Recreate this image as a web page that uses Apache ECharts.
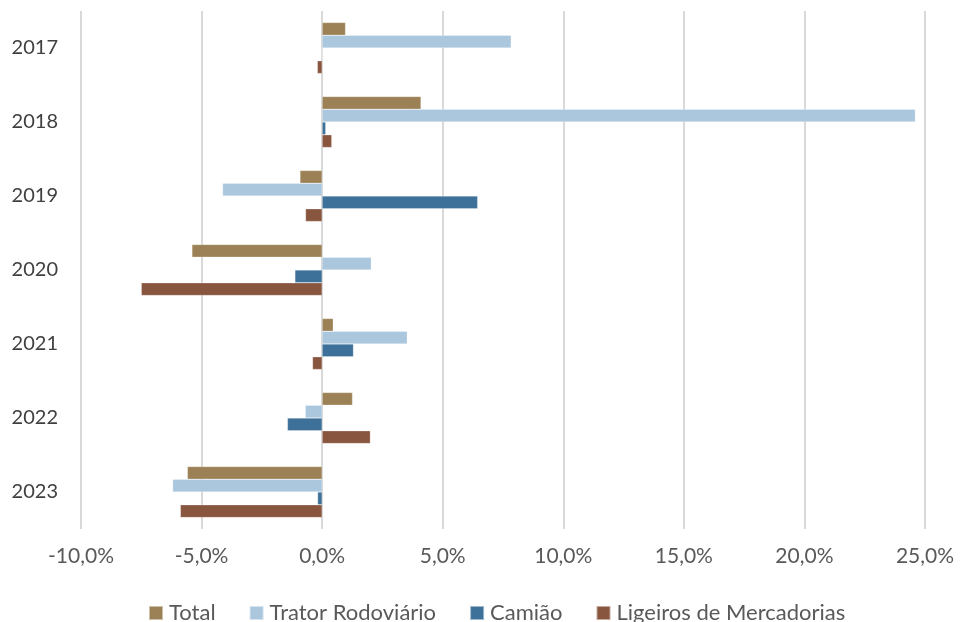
<!DOCTYPE html>
<html>
<head>
<meta charset="utf-8">
<script src="https://cdn.jsdelivr.net/npm/echarts@6/dist/echarts.min.js"></script>
<style>
html,body{margin:0;padding:0;background:#fff;}
#chart{width:960px;height:622px;}
</style>
</head>
<body>
<div id="chart"></div>
<script>
const years = ['2017','2018','2019','2020','2021','2022','2023'];
const seriesNames = ['Total','Trator Rodoviário','Camião','Ligeiros de Mercadorias'];
const total    = [0.97, 4.10, -0.92, -5.40, 0.46, 1.26, -5.59];
const trator   = [7.84, 24.60, -4.13, 2.04, 3.53, -0.70, -6.20];
const camiao   = [0.00, 0.15, 6.45, -1.13, 1.30, -1.44, -0.19];
const ligeiros = [-0.20, 0.40, -0.69, -7.50, -0.40, 2.00, -5.88];
const colors = ['#9B8155','#AAC7DE','#3E7199','#88553F'];
const xTicks = { min: -10, max: 25, interval: 5 };

const font = 'Lato, "Open Sans", sans-serif';
const dataSets = [total, trator, camiao, ligeiros];

const chart = echarts.init(document.getElementById('chart'));
chart.setOption({
  animation: false,
  textStyle: { fontFamily: font },
  grid: { left: 81, right: 35, top: 11, bottom: 93, containLabel: false },
  legend: {
    top: 597,
    left: 143,
    itemWidth: 14, itemHeight: 14, itemGap: 33,
    icon: 'rect',
    textStyle: { fontSize: 22, color: '#595959', fontFamily: font, padding: [0,0,0,1] },
    data: seriesNames
  },
  xAxis: {
    type: 'value',
    min: xTicks.min, max: xTicks.max, interval: xTicks.interval,
    axisLine: { show: false }, axisTick: { show: false },
    splitLine: { show: true, lineStyle: { color: '#D9D9D9', width: 2 } },
    axisLabel: {
      fontSize: 21, color: '#595959', margin: 17, fontFamily: font,
      formatter: v => v.toFixed(1).replace('.', ',') + '%'
    }
  },
  yAxis: {
    type: 'category',
    data: years,
    inverse: true,
    axisLine: { show: false }, axisTick: { show: false },
    axisLabel: { fontSize: 20, color: '#404040', margin: 23, fontFamily: font }
  },
  series: seriesNames.map((name, i) => ({
    name: name,
    type: 'bar',
    data: dataSets[i],
    barGap: '0%',
    barCategoryGap: '31%',
    itemStyle: { color: colors[i], borderColor: 'rgba(255,255,255,0.5)', borderWidth: 0.5 }
  }))
});
</script>
</body>
</html>
